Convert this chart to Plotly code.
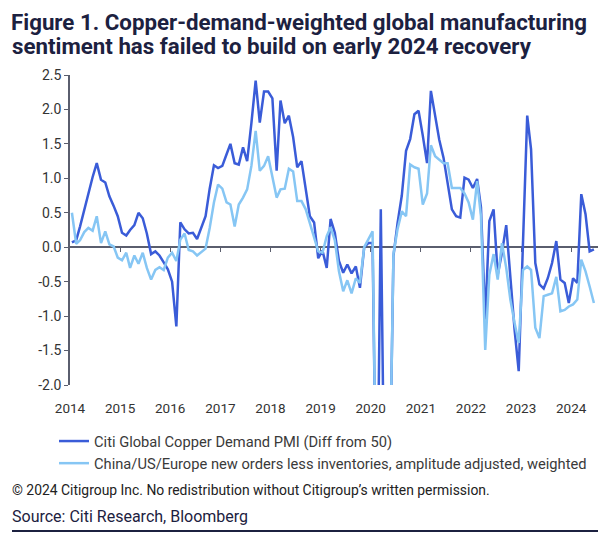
import pandas as pd
import plotly.graph_objects as go

# Monthly values, Jan 2014 .. Jun 2024 (values below -2 are off-scale, clipped by the axis)
copper_pmi = [
    0.07, 0.10, 0.30, 0.55, 0.80, 1.02, 1.22, 0.98, 0.94, 0.74, 0.60, 0.45,      # 2014
    0.21, 0.17, 0.25, 0.32, 0.50, 0.42, 0.20, -0.10, -0.06, -0.12, -0.22, -0.32,  # 2015
    -0.50, -1.15, 0.36, 0.26, 0.20, 0.21, 0.12, 0.30, 0.45, 0.85, 1.19, 1.15,    # 2016
    1.18, 1.35, 1.50, 1.22, 1.20, 1.45, 1.25, 1.80, 2.42, 1.81, 2.26, 2.26,      # 2017
    2.16, 1.11, 2.13, 1.80, 1.91, 1.60, 1.16, 1.25, 0.85, 0.45, 0.36, -0.16,     # 2018
    -0.05, -0.30, 0.41, 0.21, -0.20, -0.37, -0.25, -0.38, -0.28, -0.59, 0.00, 0.06,  # 2019
    0.06, -4.5, 0.55, -4.5, -4.0, -0.13, 0.35, 0.75, 1.40, 1.57, 1.93, 1.98,     # 2020
    1.62, 1.22, 2.27, 1.90, 1.56, 1.30, 0.95, 0.55, 0.45, 0.43, 1.01, 0.98,      # 2021
    0.86, 0.99, 0.58, -1.05, 0.38, 0.55, -0.40, -0.08, 0.32, -0.42, -1.20, -1.80,  # 2022
    0.05, 1.91, 1.42, -0.23, -0.54, -0.60, -0.45, -0.23, 0.09, -0.47, -0.52, -0.81,  # 2023
    -0.45, -0.52, 0.77, 0.48, -0.06, -0.03,                                      # 2024
]
orders_less_inv = [
    0.50, 0.05, 0.10, 0.22, 0.28, 0.24, 0.45, 0.06, 0.23, 0.04, 0.01, -0.15,     # 2014
    -0.19, -0.08, -0.30, -0.12, -0.24, -0.08, -0.30, -0.47, -0.33, -0.29, -0.33, -0.15,  # 2015
    -0.08, -0.20, 0.11, 0.20, -0.04, -0.06, -0.12, -0.07, -0.02, 0.28, 0.65, 0.91,  # 2016
    0.85, 0.65, 0.62, 0.30, 0.62, 0.72, 0.84, 1.18, 1.69, 1.11, 1.18, 1.32,      # 2017
    1.01, 0.72, 0.84, 0.85, 1.14, 1.10, 0.67, 0.67, 0.55, 0.35, 0.14, -0.06,     # 2018
    -0.08, 0.16, 0.29, 0.10, -0.35, -0.64, -0.48, -0.67, -0.45, -0.52, 0.00, 0.11,  # 2019
    0.23, -4.5, -4.0, -4.5, -4.0, -0.10, 0.26, 0.52, 0.45, 1.20, 1.16, 1.14,     # 2020
    0.62, 0.78, 1.48, 1.32, 1.27, 1.22, 1.22, 0.86, 0.86, 0.86, 0.78, 0.65,      # 2021
    0.40, 0.96, 0.45, -1.49, -0.40, -0.10, -0.47, 0.06, -0.30, -0.76, -1.10, -1.39,  # 2022
    -0.33, -0.28, -0.33, -1.17, -1.32, -0.71, -0.69, -0.67, -0.43, -0.93, -0.91, -0.86,  # 2023
    -0.83, -0.76, -0.18, -0.35, -0.57, -0.81,                                    # 2024
]
months = pd.date_range("2014-01-01", periods=len(copper_pmi), freq="MS") + pd.Timedelta(days=14)

year_ticks = [f"{y}-01-01" for y in range(2014, 2025)]
year_labels = [str(y) for y in range(2014, 2025)]
y_ticks = [-2.0, -1.5, -1.0, -0.5, 0.0, 0.5, 1.0, 1.5, 2.0, 2.5]
y_labels = ["-2.0", "-1.5", "-1.0", "-0.5", "0.0", "0.5", "1.0", "1.5", "2.0", "2.5"]

series_names = [
    "Citi Global Copper Demand PMI (Diff from 50)",
    "China/US/Europe new orders less inventories, amplitude adjusted, weighted",
]
title_lines = [
    "Figure 1. Copper-demand-weighted global manufacturing",
    "sentiment has failed to build on early 2024 recovery",
]
footer_lines = [
    "© 2024 Citigroup Inc. No redistribution without Citigroup’s written permission.",
    "Source: Citi Research, Bloomberg",
]

DARK = "#3A5CD8"
LIGHT = "#86C6F4"
NAVY = "#1C2140"
AXIS = "#5A5E6E"
FONT = "Roboto"

x_range = ["2014-01-01", "2024-08-13"]

# page body adds an 8px offset; the figure is sized/placed to compensate
OFF = 8
W, H = 606 - OFF, 534 - OFF
# plot area in window pixels: x 70..602, y 75..385
L, R, T, B = 70 - OFF, 602 - OFF, 75 - OFF, 385 - OFF


def px(x):
    return (x - OFF - L) / (R - L)


def py(y):
    return (B - (y - OFF)) / (B - T)


fig = go.Figure()
fig.add_trace(go.Scatter(x=months, y=copper_pmi, mode="lines", name=series_names[0],
                         line=dict(color=DARK, width=2.5)))
fig.add_trace(go.Scatter(x=months, y=orders_less_inv, mode="lines", name=series_names[1],
                         line=dict(color=LIGHT, width=2.5)))
# empty trace to activate the zero-line axis
fig.add_trace(go.Scatter(x=[], y=[], xaxis="x2", showlegend=False, hoverinfo="skip"))

fig.update_layout(
    width=W, height=H,
    margin=dict(l=L, r=W - R, t=T, b=H - B, autoexpand=False),
    paper_bgcolor="white", plot_bgcolor="white",
    font=dict(family=FONT, color="#333333"),
    showlegend=True,
    legend=dict(x=px(54), y=py(425), xanchor="left", yanchor="top",
                font=dict(family=FONT, size=14.7, color="#3A3A3A"),
                bgcolor="rgba(0,0,0,0)", itemwidth=30, tracegroupgap=0),
    xaxis=dict(type="date", range=x_range, tickvals=year_ticks, ticktext=year_labels,
               showgrid=False, zeroline=False, showline=False,
               ticks="outside", ticklen=11, tickcolor="rgba(0,0,0,0)",
               tickfont=dict(family=FONT, size=13.5, color="#333333")),
    xaxis2=dict(type="date", range=x_range, overlaying="x", anchor="free",
                position=2.0 / 4.5,
                tickvals=year_ticks[1:], showticklabels=False,
                showgrid=False, zeroline=False, showline=True,
                linecolor=AXIS, linewidth=1.5, ticks="outside", ticklen=4,
                tickcolor=AXIS, tickwidth=1.3, layer="below traces"),
    yaxis=dict(range=[-2.0, 2.5], tickvals=y_ticks, ticktext=y_labels,
               showgrid=False, zeroline=False, showline=True,
               linecolor=AXIS, linewidth=1.5, ticks="outside", ticklen=4,
               tickcolor=AXIS, tickwidth=1.3,
               tickfont=dict(family=FONT, size=14, color="#333333")),
)

annotations = [
    dict(text=f"<b>{title_lines[0]}</b>", x=px(10), y=8 / (B - T) + 1 + (T - 8) / (B - T) - 0.0,
         xref="paper", yref="paper",
         xanchor="left", yanchor="top", showarrow=False,
         font=dict(family=FONT, size=22.3, color=NAVY)),
    dict(text=f"<b>{title_lines[1]}</b>", x=px(10), y=py(46), xref="paper", yref="paper",
         xanchor="left", yanchor="middle", showarrow=False,
         font=dict(family=FONT, size=22.3, color=NAVY)),
    dict(text=footer_lines[0], x=px(10), y=py(490), xref="paper", yref="paper",
         xanchor="left", yanchor="middle", showarrow=False,
         font=dict(family=FONT, size=13.9, color="#222222")),
    dict(text=footer_lines[1], x=px(10), y=py(516), xref="paper", yref="paper",
         xanchor="left", yanchor="middle", showarrow=False,
         font=dict(family=FONT, size=16, color=NAVY)),
]
# first title line: top of its box placed at the very top of the figure
annotations[0]["y"] = py(OFF)
annotations[0]["borderpad"] = 0
fig.update_layout(annotations=annotations)
fig.add_shape(type="line", xref="paper", yref="paper", x0=px(12), x1=px(606),
              y0=py(531), y1=py(531), line=dict(color=NAVY, width=2))

fig.write_html("out.html")
